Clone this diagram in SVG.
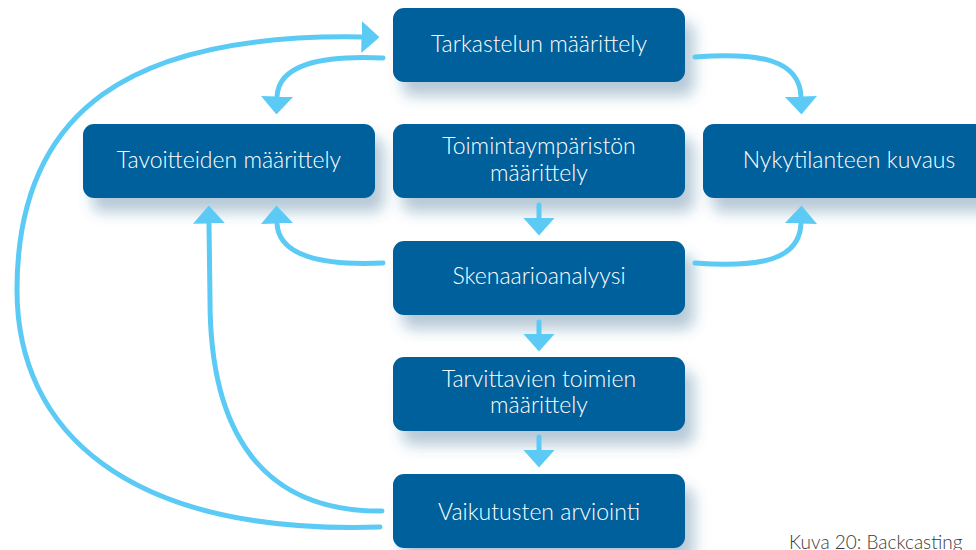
<svg xmlns="http://www.w3.org/2000/svg" width="976" height="550" viewBox="0 0 976 550">
  <defs>
    <filter id="shadow" x="-10%" y="-20%" width="130%" height="160%">
      <feDropShadow dx="9" dy="14" stdDeviation="7" flood-color="#1f5a85" flood-opacity="0.32"/>
    </filter>
    <marker id="ah" viewBox="0 0 18 32" markerWidth="18" markerHeight="32" refX="0.5" refY="16" orient="auto" markerUnits="userSpaceOnUse">
      <path d="M0,0 L18,16 L0,32 Z" fill="#5bcbf5"/>
    </marker>
  </defs>
  <style>
    .box { fill: #02619b; filter: url(#shadow); }
    .lbl { fill: #ffffff; font-family: Lato, "Open Sans", "Liberation Sans", sans-serif; font-weight: 300; font-size: 23px; text-anchor: middle; }
    .con { fill: none; stroke: #5bcbf5; stroke-width: 5; stroke-linecap: round; marker-end: url(#ah); }
    .cap { fill: #3a3a3a; font-family: Lato, "Liberation Sans", sans-serif; font-weight: 300; font-size: 19px; }
  </style>
  <rect width="976" height="550" fill="#ffffff"/>

  <g id="tarkastelun">
    <rect class="box" x="393" y="8" width="292" height="74" rx="11"/>
    <text class="lbl" x="539" y="52">Tarkastelun määrittely</text>
  </g>
  <g id="tavoitteiden">
    <rect class="box" x="83" y="124" width="292" height="74" rx="11"/>
    <text class="lbl" x="229" y="168">Tavoitteiden määrittely</text>
  </g>
  <g id="toimintaymparisto">
    <rect class="box" x="393" y="124" width="292" height="74" rx="11"/>
    <text class="lbl" x="539" y="154">Toimintaympäristön</text>
    <text class="lbl" x="539" y="181">määrittely</text>
  </g>
  <g id="nykytilanne">
    <rect class="box" x="703" y="124" width="292" height="74" rx="11"/>
    <text class="lbl" x="849" y="168">Nykytilanteen kuvaus</text>
  </g>
  <g id="skenaario">
    <rect class="box" x="393" y="241" width="292" height="74" rx="11"/>
    <text class="lbl" x="539" y="284">Skenaarioanalyysi</text>
  </g>
  <g id="tarvittavat">
    <rect class="box" x="393" y="357" width="292" height="74" rx="11"/>
    <text class="lbl" x="539" y="387">Tarvittavien toimien</text>
    <text class="lbl" x="539" y="413">määrittely</text>
  </g>
  <g id="vaikutukset">
    <rect class="box" x="393" y="474" width="292" height="74" rx="11"/>
    <text class="lbl" x="539" y="520">Vaikutusten arviointi</text>
  </g>

  <g id="connectors">
    <path class="con" d="M383,58 C320,55 278,65 277,97"/>
    <path class="con" d="M695,57 C760,52 800,60 801,97"/>
    <path class="con" d="M383,263 C320,266 278,255 277,223"/>
    <path class="con" d="M695,263 C760,268 800,260 801,223"/>
    <path class="con" d="M539,205 L539,218"/>
    <path class="con" d="M539,322 L539,334"/>
    <path class="con" d="M539,437 L539,450"/>
    <path class="con" d="M382,511 C260,512 210,430 210,300 L209,223"/>
    <path class="con" d="M380,527 C125,535 17,430 17,290 C17,110 130,33 362,37"/>
  </g>

  <text class="cap" x="789" y="549">Kuva 20: Backcasting</text>
</svg>
